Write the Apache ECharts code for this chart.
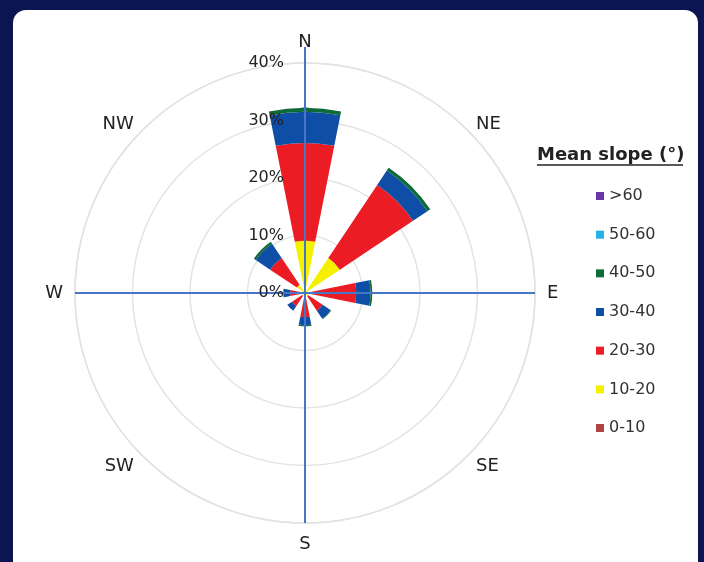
<!DOCTYPE html>
<html>
<head>
<meta charset="utf-8">
<script src="https://cdn.jsdelivr.net/npm/echarts@6/dist/echarts.min.js"></script>
<style>
html,body{margin:0;padding:0;width:704px;height:562px;background:#0a1552;overflow:hidden;}
#panel{position:absolute;left:13px;top:10px;width:685px;height:620px;background:#fff;border-radius:13px;}
#chart{position:absolute;left:0;top:0;width:704px;height:562px;}
</style>
</head>
<body>
<div id="panel"></div>
<div id="chart"></div>
<script>
// Directions (8 sectors, clockwise from north)
var directions = ['N', 'NE', 'E', 'SE', 'S', 'SW', 'W', 'NW'];
// Radius tick labels (%)
var radiusTicks = [0, 10, 20, 30, 40];
// Mean slope classes (legend order, top to bottom)
var slopeClasses = ['>60', '50-60', '40-50', '30-40', '20-30', '10-20', '0-10'];
// Frequency (%) of each slope class per direction (stacked outward)
var slope0_10  = [0.2, 0.2, 0.2, 0.2, 0.2, 0.2, 0.2, 0.2];
var slope10_20 = [8.9, 7.1, 1.0, 0.5, 0.5, 0.4, 0.4, 1.5];
var slope20_30 = [17.0, 15.3, 7.7, 3.0, 3.5, 2.1, 2.0, 5.6];
var slope30_40 = [5.4, 3.0, 2.5, 1.7, 1.4, 1.0, 1.1, 3.0];
var slope40_50 = [0.7, 0.6, 0.3, 0.1, 0.2, 0.0, 0.1, 0.4];
var slope50_60 = [0, 0, 0, 0, 0, 0, 0, 0];
var slopeOver60 = [0, 0, 0, 0, 0, 0, 0, 0];

var colors = {
  '0-10': '#b04444',
  '10-20': '#f4f000',
  '20-30': '#ec1c24',
  '30-40': '#0f4ea6',
  '40-50': '#0e6b38',
  '50-60': '#22b2ea',
  '>60': '#6a36a8'
};

var stackOrder = [
  ['0-10', slope0_10],
  ['10-20', slope10_20],
  ['20-30', slope20_30],
  ['30-40', slope30_40],
  ['40-50', slope40_50],
  ['50-60', slope50_60],
  ['>60', slopeOver60]
];

var CX = 305, CY = 293, R = 230;
var FONT = 'DejaVu Sans';

// per-label nudges for the diagonal direction labels
var labelPad = {
  NE: [0, 0, -11, 0], NW: [0, 0, -11, 0],
  SE: [-7, 0, 0, 0], SW: [-7, 0, 0, 0]
};
var angleData = directions.map(function (d) {
  return labelPad[d] ? { value: d, textStyle: { padding: labelPad[d] } } : d;
});

var series = stackOrder.map(function (s) {
  return {
    name: s[0],
    type: 'bar',
    coordinateSystem: 'polar',
    polarIndex: 0,
    stack: 'slope',
    barWidth: '50%',
    data: s[1],
    itemStyle: { color: colors[s[0]] },
    z: 2
  };
});

var chart = echarts.init(document.getElementById('chart'));
chart.setOption({
  animation: false,
  backgroundColor: 'transparent',
  polar: [
    { center: [CX, CY], radius: R },
    { center: [CX, CY], radius: R },
    { center: [CX, CY], radius: 246 }
  ],
  angleAxis: [
    {
      polarIndex: 0,
      type: 'category',
      data: angleData,
      startAngle: 112.5,
      clockwise: true,
      boundaryGap: true,
      axisLine: { show: true, lineStyle: { color: '#e3e3e3', width: 1.5 } },
      axisTick: { show: false },
      splitLine: { show: false },
      axisLabel: { margin: 12, fontSize: 18, fontFamily: FONT, color: '#222' }
    },
    {
      polarIndex: 1,
      type: 'value',
      min: 0, max: 360, interval: 90,
      startAngle: 90,
      axisLine: { show: false },
      axisTick: { show: false },
      axisLabel: { show: false },
      splitLine: { show: true, lineStyle: { color: '#4677c6', width: 2 } },
      z: 10
    },
    {
      polarIndex: 2,
      type: 'value',
      min: 0, max: 360, interval: 360,
      startAngle: 90,
      axisLine: { show: false },
      axisTick: { show: false },
      axisLabel: { show: false },
      splitLine: { show: true, lineStyle: { color: '#4677c6', width: 2 } },
      z: 10
    }
  ],
  radiusAxis: [
    {
      polarIndex: 0,
      type: 'value',
      min: radiusTicks[0], max: radiusTicks[radiusTicks.length - 1], interval: 10,
      axisLine: { show: false },
      axisTick: { show: false },
      axisLabel: { show: false },
      splitLine: { show: true, lineStyle: { color: '#e3e3e3', width: 1.5 } },
      z: 0
    },
    {
      polarIndex: 1,
      type: 'value',
      min: radiusTicks[0], max: radiusTicks[radiusTicks.length - 1], interval: 10,
      axisLine: { show: false },
      axisTick: { show: false },
      splitLine: { show: false },
      axisLabel: {
        show: true, formatter: '{value}%', margin: 21,
        fontSize: 16, fontFamily: FONT, color: '#222'
      },
      z: 11
    },
    {
      polarIndex: 2,
      type: 'value',
      min: 0, max: 40,
      axisLine: { show: false },
      axisTick: { show: false },
      splitLine: { show: false },
      axisLabel: { show: false }
    }
  ],
  legend: {
    data: slopeClasses,
    orient: 'vertical',
    left: 591,
    top: 183,
    itemWidth: 8,
    itemHeight: 8,
    itemGap: 22.67,
    icon: 'rect',
    textStyle: { fontSize: 16, fontFamily: FONT, color: '#333' },
    selectedMode: false
  },
  graphic: [
    {
      type: 'text',
      left: 537,
      top: 146,
      style: { text: 'Mean slope (°)', font: 'bold 18px "DejaVu Sans"', fill: '#222' }
    },
    {
      type: 'line',
      shape: { x1: 537, y1: 165, x2: 683, y2: 165 },
      style: { stroke: '#222', lineWidth: 1.5 }
    }
  ],
  series: series
});
</script>
</body>
</html>
